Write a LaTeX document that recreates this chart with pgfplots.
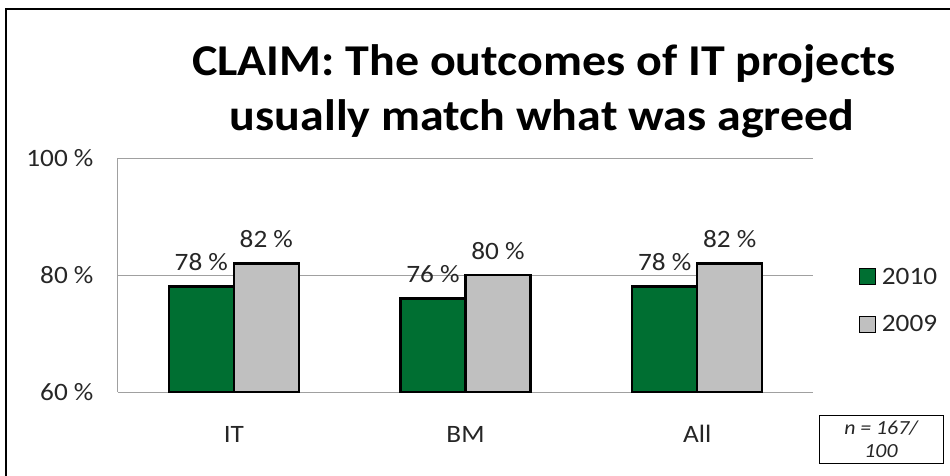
\documentclass[border=0pt]{standalone}
\usepackage{pgfplots}
\pgfplotsset{compat=1.18}
\usepackage{fontspec}
\setmainfont{Carlito}[FakeStretch=1.09]
\definecolor{barGreen}{HTML}{006F32}
\definecolor{barGray}{HTML}{C0C0C0}
\definecolor{gridGray}{HTML}{A0A0A0}
\definecolor{txt}{HTML}{262626}

\begin{document}
\begin{tikzpicture}
% page area (1pt per pixel), origin at the top-left corner
\path[use as bounding box] (0pt,0pt) rectangle (950pt,-475pt);
% outer chart frame
\draw[line width=2.5pt] (6pt,-490pt) -- (6pt,-9pt) -- (960pt,-9pt);

% title, one node per line
\node[font=\fontsize{44}{55}\selectfont\bfseries, anchor=base, text=black, inner sep=0pt]
  at (544pt,-75pt) {CLAIM: The outcomes of IT projects};
\node[font=\fontsize{44}{55}\selectfont\bfseries, anchor=base, text=black, inner sep=0pt]
  at (542pt,-130pt) {usually match what was agreed};

\begin{axis}[
  at={(118pt,-392pt)}, anchor=south west,
  scale only axis, width=695pt, height=234pt,
  ybar=0pt, bar width=65pt,
  xmin=-0.5, xmax=2.5, ymin=60, ymax=100,
  xtick={0,1,2}, xticklabels={IT,BM,All},
  ytick={60,80,100},
  yticklabel={\pgfmathprintnumber{\tick}~\%},
  major tick length=0pt,
  axis x line*=bottom, axis y line*=left,
  axis line style={gridGray, line width=1pt, -},
  ymajorgrids, major grid style={gridGray, line width=1pt},
  tick label style={font=\fontsize{25}{30}\selectfont, text=txt},
  yticklabel style={xshift=-21pt},
  xticklabel style={anchor=base, yshift=-50pt},
  /pgf/number format/assume math mode=true,
  nodes near coords={\pgfmathprintnumber{\pgfplotspointmeta}~\%},
  every node near coord/.append style={font=\fontsize{25}{30}\selectfont, text=txt, yshift=11pt},
  legend style={at={(1.066,0.391)}, anchor=west, draw=none, fill=none,
    font=\fontsize{25}{30}\selectfont, text=txt, inner sep=0pt,
    row sep=26pt, legend cell align=left,
    nodes={inner xsep=6pt}},
  legend image code/.code={\draw[#1, line width=0.8pt] (0pt,-8pt) rectangle (16pt,8pt);},
]
\addplot[fill=barGreen, draw=black, line width=2.5pt] coordinates {(0,78) (1,76) (2,78)};
\addplot[fill=barGray, draw=black, line width=2.5pt] coordinates {(0,82) (1,80) (2,82)};
\legend{2010,2009}
\end{axis}

% sample size box
\draw[line width=1pt] (819pt,-415pt) rectangle (943pt,-463pt);
\node[font=\fontsize{20}{23}\selectfont\itshape, align=center, text=txt]
  at (881pt,-439pt) {n = 167/\\100};
\end{tikzpicture}
\end{document}
